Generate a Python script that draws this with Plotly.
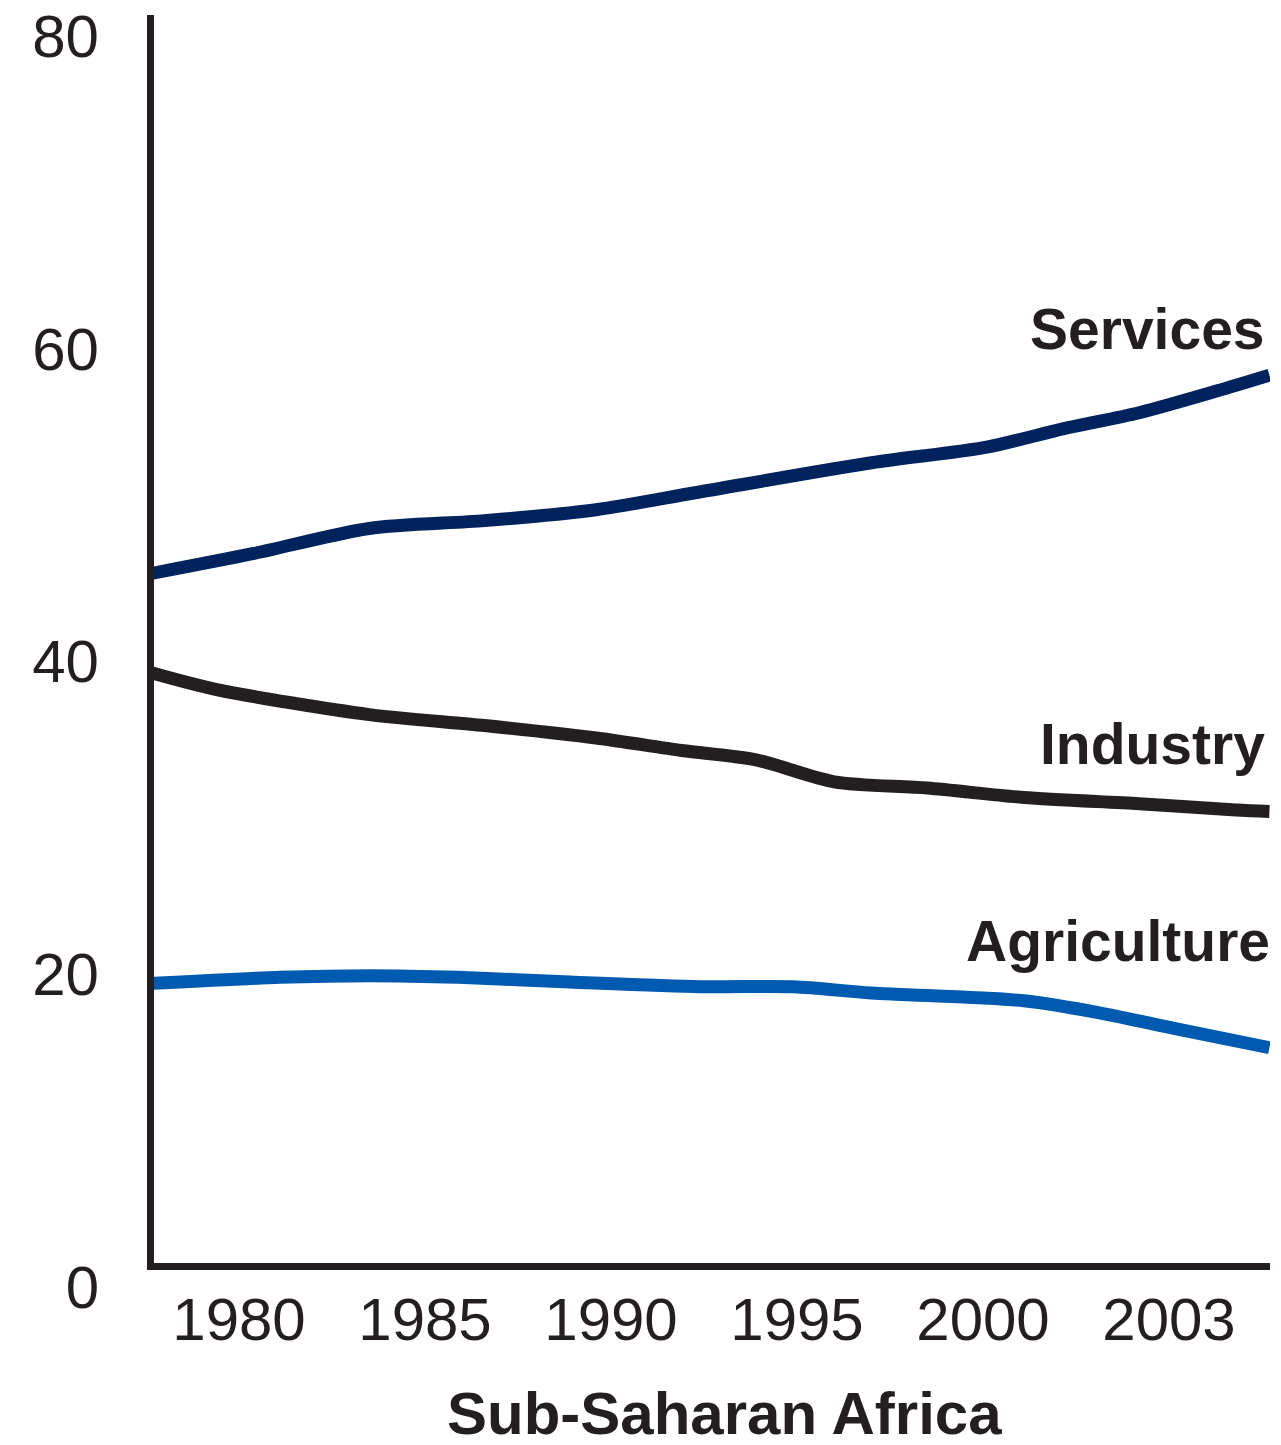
import plotly.graph_objects as go

# ---------------- data ----------------
services_years = [1977.6, 1980.4, 1983.5, 1986.6, 1989.6, 1992.3, 1997.0, 2000.1, 2002.2, 2004.2, 2006.3, 2007.7]
services_vals = [45.6, 46.9, 48.5, 49.0, 49.7, 50.8, 52.7, 53.7, 54.9, 55.9, 57.3, 58.3]

industry_years = [1977.6, 1979.4, 1983.5, 1986.6, 1989.6, 1991.9, 1993.9, 1996.0, 1998.5, 2001.1, 2004.2, 2006.8, 2007.7]
industry_vals = [39.3, 38.2, 36.6, 35.9, 35.1, 34.3, 33.7, 32.3, 31.9, 31.3, 30.9, 30.5, 30.4]

agri_years = [1977.6, 1981.1, 1983.5, 1985.9, 1988.9, 1992.4, 1994.9, 1997.0, 2001.1, 2003.2, 2005.2, 2007.7]
agri_vals = [19.4, 19.8, 19.9, 19.8, 19.5, 19.2, 19.2, 18.8, 18.3, 17.5, 16.5, 15.3]

x_tickvals = [1980, 1985, 1990, 1995, 2000, 2005]
x_ticktext = ["1980", "1985", "1990", "1995", "2000", "2003"]
y_tickvals = [0, 20, 40, 60, 80]
y_ticktext = ["0", "20", "40", "60", "80"]

series_names = ["Services", "Industry", "Agriculture"]
series_colors = ["#00235e", "#231f20", "#005bb0"]
title_text = "Sub-Saharan Africa"

# ---------------- layout geometry (page pixels, body offset compensated) ----------------
OFF = 8                      # default html body margin
W, H = 1281, 1445
plot_left, plot_right = 154 - OFF, 1270 - OFF
plot_top = 15 - OFF
axis_bottom = 1263 - OFF     # x-axis line position
label_zero = 1287 - OFF      # pixel where the value 0 sits
px_per_unit = 15.64
px_per_year = 37.2
px_1980 = 239 - OFF

y_top_val = (label_zero - plot_top) / px_per_unit
y_axis_bottom_val = (label_zero - axis_bottom) / px_per_unit
plot_h = label_zero - plot_top
main_dom_bottom = (label_zero - axis_bottom) / plot_h

x_lo = 1980 + (plot_left - px_1980) / px_per_year
x_hi = 1980 + (plot_right - px_1980) / px_per_year

AXIS_COLOR = "#231f20"
TICK_FONT = dict(family="Liberation Sans, Arial, sans-serif", size=60, color=AXIS_COLOR)
LABEL_FONT = dict(family="Liberation Sans, Arial, sans-serif", size=57, color=AXIS_COLOR, weight="bold")
TITLE_FONT = dict(family="Liberation Sans, Arial, sans-serif", size=60, color=AXIS_COLOR, weight="bold")

fig = go.Figure()
for name, xs, ys, col in [
    ("Services", services_years, services_vals, series_colors[0]),
    ("Industry", industry_years, industry_vals, series_colors[1]),
    ("Agriculture", agri_years, agri_vals, series_colors[2]),
]:
    fig.add_trace(go.Scatter(
        x=xs, y=ys, mode="lines", name=name,
        line=dict(color=col, width=13, shape="spline", smoothing=0.8),
        cliponaxis=False, hoverinfo="x+y+name", showlegend=False,
    ))

# invisible trace that carries the labelled value axis
fig.add_trace(go.Scatter(x=[None], y=[None], yaxis="y2", showlegend=False, hoverinfo="skip"))

label_pos = [
    ("Services", 61.25, 0),
    ("Industry", 34.7, 0),
    ("Agriculture", 22.1, 5),
]
for text, yv, xs in label_pos:
    fig.add_annotation(
        x=x_hi, y=yv, xref="x", yref="y", text=text, showarrow=False,
        xanchor="right", yanchor="middle", xshift=-3 + xs, font=LABEL_FONT,
    )

# chart title below the axis
title_center_px = 1413 - OFF
fig.add_annotation(
    x=(724 - OFF - plot_left) / (plot_right - plot_left), xref="paper",
    y=(label_zero - title_center_px) / plot_h, yref="paper",
    text=title_text, showarrow=False, xanchor="center", yanchor="middle",
    font=TITLE_FONT,
)

fig.update_layout(
    width=W, height=H,
    margin=dict(l=plot_left, r=W - plot_right, t=plot_top, b=H - label_zero, pad=0,
                autoexpand=False),
    paper_bgcolor="white", plot_bgcolor="rgba(0,0,0,0)",
    xaxis=dict(
        range=[x_lo, x_hi], tickvals=x_tickvals, ticktext=x_ticktext,
        showline=True, linecolor=AXIS_COLOR, linewidth=6.5,
        showgrid=False, zeroline=False, ticks="", tickfont=TICK_FONT,
        ticklabelstandoff=-2, anchor="y", automargin=False,
        ticklabeloverflow="allow",
    ),
    yaxis=dict(
        domain=[main_dom_bottom, 1], range=[y_axis_bottom_val, y_top_val],
        showline=True, linecolor=AXIS_COLOR, linewidth=6.5,
        showgrid=False, zeroline=False, ticks="", showticklabels=False,
        automargin=False,
    ),
    yaxis2=dict(
        domain=[0, 1], range=[0, y_top_val], anchor="free", position=0,
        tickvals=y_tickvals, ticktext=y_ticktext, tickfont=TICK_FONT,
        showline=False, showgrid=False, zeroline=False, ticks="",
        ticklabelstandoff=55, automargin=False, ticklabeloverflow="allow",
    ),
)

fig.write_html("out.html")
